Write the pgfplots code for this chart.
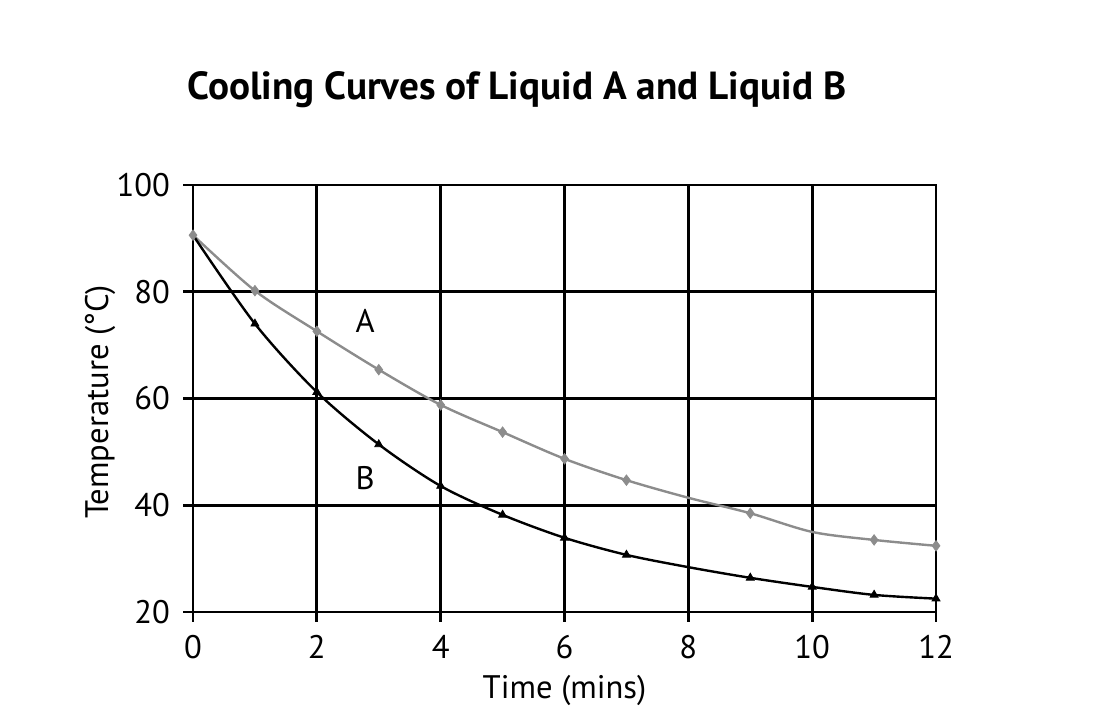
\documentclass[border=0pt]{standalone}
\usepackage{pgfplots}
\pgfplotsset{compat=1.18}
\usepackage{fontspec}
\setmainfont{PT Sans}
\definecolor{agray}{RGB}{140,140,140}
\begin{document}
\fontsize{16}{19}\selectfont
\begin{tikzpicture}
\begin{axis}[
  scale only axis,
  width=371.5pt, height=213.5pt,
  xmin=0, xmax=12, ymin=20, ymax=100,
  xtick={0,2,...,12}, ytick={20,40,...,100},
  grid=major,
  major grid style={black, line width=1.4pt},
  axis line style={black, line width=1.4pt},
  every tick/.style={black, line width=1.4pt},
  major tick length=5pt,
  tick align=outside,
  xtick pos=bottom, ytick pos=left,
  xticklabel style={yshift=-1pt},
  yticklabel style={xshift=-1pt},
  /pgf/number format/assume math mode=true,
  ticklabel style={font=\fontsize{16.3}{19}\selectfont},
  xlabel={Time (mins)},
  ylabel={Temperature (°C)},
  label style={font=\fontsize{16.3}{19}\selectfont},
  xlabel style={at={(axis description cs:0.5,-0.183)}, anchor=center},
  ylabel style={at={(axis description cs:-0.125,0.492)}, anchor=center},
  clip=false,
]
% Liquid A
\addplot[agray, line width=1.2pt, smooth, tension=0.5] coordinates {
 (0,90.6) (1,80.2) (2,72.6) (3,65.4) (4,58.8) (5,53.7) (6,48.7) (7,44.7) (8,41.4) (9,38.5) (10,35.0) (11,33.5) (12,32.4)};
\addplot[only marks, mark=diamond*, mark size=2.6pt, agray, mark options={fill=agray}] coordinates {
 (0,90.6) (1,80.2) (2,72.6) (3,65.4) (4,58.8) (5,53.7) (6,48.7) (7,44.7) (9,38.5) (11,33.5) (12,32.4)};
% Liquid B
\addplot[black, line width=1.2pt, smooth, tension=0.5] coordinates {
 (0,90.6) (1,74.0) (2,61.2) (3,51.4) (4,43.6) (5,38.2) (6,33.9) (7,30.7) (8,28.4) (9,26.4) (10,24.7) (11,23.2) (12,22.5)};
\addplot[only marks, mark=triangle*, mark size=2.3pt, black] coordinates {
 (1,74.0) (2,61.2) (3,51.4) (4,43.6) (5,38.2) (6,33.9) (7,30.7) (9,26.4) (10,24.7) (11,23.2) (12,22.5)};
\node[font=\fontsize{16.3}{19}\selectfont] at (axis cs:2.78,74.5) {A};
\node[font=\fontsize{16.3}{19}\selectfont] at (axis cs:2.78,45.1) {B};
\node[font=\fontsize{19.6}{23}\selectfont\bfseries] at (rel axis cs:0.436,1.2225) {Cooling Curves of Liquid A and Liquid B};
\coordinate (ll) at (rel axis cs:-0.2598,-0.267);
\coordinate (ur) at (rel axis cs:1.2328,1.4333);
\end{axis}
\pgfresetboundingbox
\useasboundingbox (ll) rectangle (ur);
\end{tikzpicture}
\end{document}
